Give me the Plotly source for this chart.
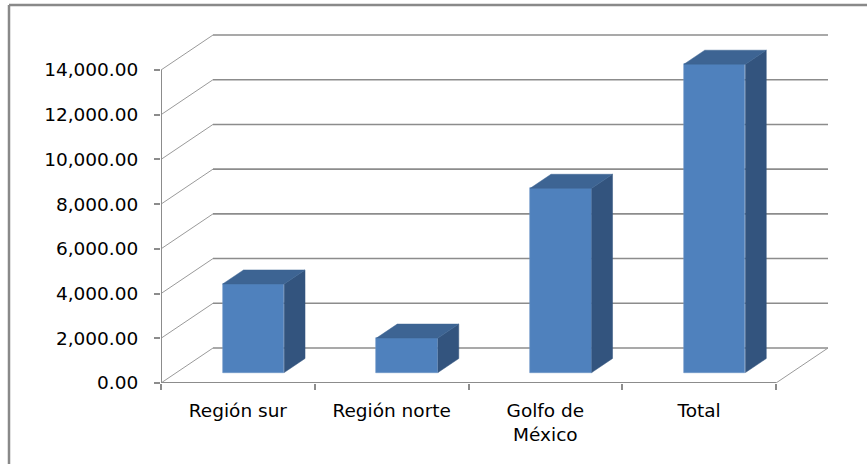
import plotly.graph_objects as go

# ---- data ----
categories = ["Región sur", "Región norte", "Golfo de<br>México", "Total"]
values = [3960, 1540, 8240, 13790]
y_ticks = [0, 2000, 4000, 6000, 8000, 10000, 12000, 14000]

# ---- geometry / style ----
W, H = 867, 464
ML, MR, MT, MB = 161, 27, 20, 81
PX_PER_CAT = 153.75
VAL_PER_PX = 14000 / 313.0
DEPTH_PX_X, DEPTH_PX_Y = 52, 35
DXU = DEPTH_PX_X / PX_PER_CAT          # depth shift in x units
DYV = DEPTH_PX_Y * VAL_PER_PX          # depth shift in value units
n = len(categories)
x_max = (W - ML - MR) / PX_PER_CAT
y_max = (H - MT - MB) * VAL_PER_PX
FRONT, BACK = 0.3, 0.7
BAR_W = 0.4

C_FRONT, C_TOP, C_SIDE = "#4F81BD", "#3D6493", "#33547E"
GRID = "#8c8c8c"
FONT = "DejaVu Sans"
FS = 18.5


def proj(x, v, d):
    return x + d * DXU, v + d * DYV


shapes = []


def seg(p, q, color, width):
    shapes.append(dict(type="line", xref="x", yref="y", layer="below",
                       x0=p[0], y0=p[1], x1=q[0], y1=q[1],
                       line=dict(color=color, width=width)))


# walls: diagonal gridlines on side wall + horizontal gridlines on back wall
for t in y_ticks:
    seg(proj(0, t, 0), proj(0, t, 1), "#9a9a9a", 1)
    seg(proj(0, t, 1), proj(n, t, 1), GRID, 1.6)
# floor right edge
seg(proj(n, 0, 0), proj(n, 0, 1), "#9a9a9a", 1)
# front axis lines
seg(proj(0, 0, 0), proj(0, max(y_ticks), 0), GRID, 2)
seg(proj(0, 0, 0), proj(n, 0, 0), GRID, 2)

fig = go.Figure()

# front faces as real bars
fx = [proj(i + 0.5, 0, FRONT)[0] for i in range(n)]
base = proj(0, 0, FRONT)[1]
fig.add_trace(go.Bar(x=fx, y=values, base=[base] * n, width=BAR_W,
                     marker=dict(color=C_FRONT, line=dict(color="#6f96c8", width=0.6)),
                     showlegend=False, hovertemplate="%{y:,.2f}<extra></extra>"))

# side and top faces
for i, v in enumerate(values):
    c = i + 0.5
    xl, xr = c - BAR_W / 2, c + BAR_W / 2
    for pts, col in (
        ([proj(xr, 0, FRONT), proj(xr, v, FRONT), proj(xr, v, BACK), proj(xr, 0, BACK)], C_SIDE),
        ([proj(xl, v, FRONT), proj(xr, v, FRONT), proj(xr, v, BACK), proj(xl, v, BACK)], C_TOP),
    ):
        fig.add_trace(go.Scatter(x=[p[0] for p in pts] + [pts[0][0]],
                                 y=[p[1] for p in pts] + [pts[0][1]],
                                 mode="lines", fill="toself", fillcolor=col,
                                 line=dict(color=col, width=0.5),
                                 hoverinfo="skip", showlegend=False))

# category labels on overlaying axis
fig.add_trace(go.Scatter(x=[i + 0.5 for i in range(n)], y=[0] * n, xaxis="x2",
                         mode="markers", marker=dict(opacity=0),
                         hoverinfo="skip", showlegend=False))

pw, ph = W - ML - MR, H - MT - MB
shapes += [
    dict(type="line", xref="paper", yref="paper",
         x0=(9 - ML) / pw, x1=(9 - ML) / pw,
         y0=(H - MB - 5) / ph, y1=(H - MB - H - 10) / ph,
         line=dict(color="#898989", width=2.5)),
    dict(type="line", xref="paper", yref="paper",
         x0=(9 - ML) / pw, x1=(W + 10 - ML) / pw,
         y0=(H - MB - 5) / ph, y1=(H - MB - 5) / ph,
         line=dict(color="#898989", width=2.5)),
]

fig.update_layout(
    width=W, height=H,
    margin=dict(l=ML, r=MR, t=MT, b=MB),
    paper_bgcolor="white", plot_bgcolor="white",
    font=dict(family=FONT, size=FS, color="#000000"),
    bargap=0,
    xaxis=dict(range=[0, x_max], tickvals=list(range(n + 1)), ticktext=[""] * (n + 1),
               ticks="outside", ticklen=6, tickwidth=1.5, tickcolor=GRID,
               showgrid=False, zeroline=False, showline=False, fixedrange=True),
    xaxis2=dict(range=[0, x_max], overlaying="x", side="bottom",
                tickvals=[i + 0.5 for i in range(n)], ticktext=categories,
                ticks="", ticklabelstandoff=14,
                showgrid=False, zeroline=False, showline=False,
                tickfont=dict(family=FONT, size=FS, color="#000000")),
    yaxis=dict(range=[0, y_max], tickvals=y_ticks, tickformat=",.2f",
               ticks="outside", ticklen=6, tickwidth=1.5, tickcolor=GRID,
               ticklabelstandoff=12,
               showgrid=False, zeroline=False, showline=False, fixedrange=True,
               tickfont=dict(family=FONT, size=FS, color="#000000")),
    shapes=shapes,
)

fig.write_html("out.html", config={"displayModeBar": False},
               post_script="document.body.style.margin='0';"
               "document.body.style.overflow='hidden';")
